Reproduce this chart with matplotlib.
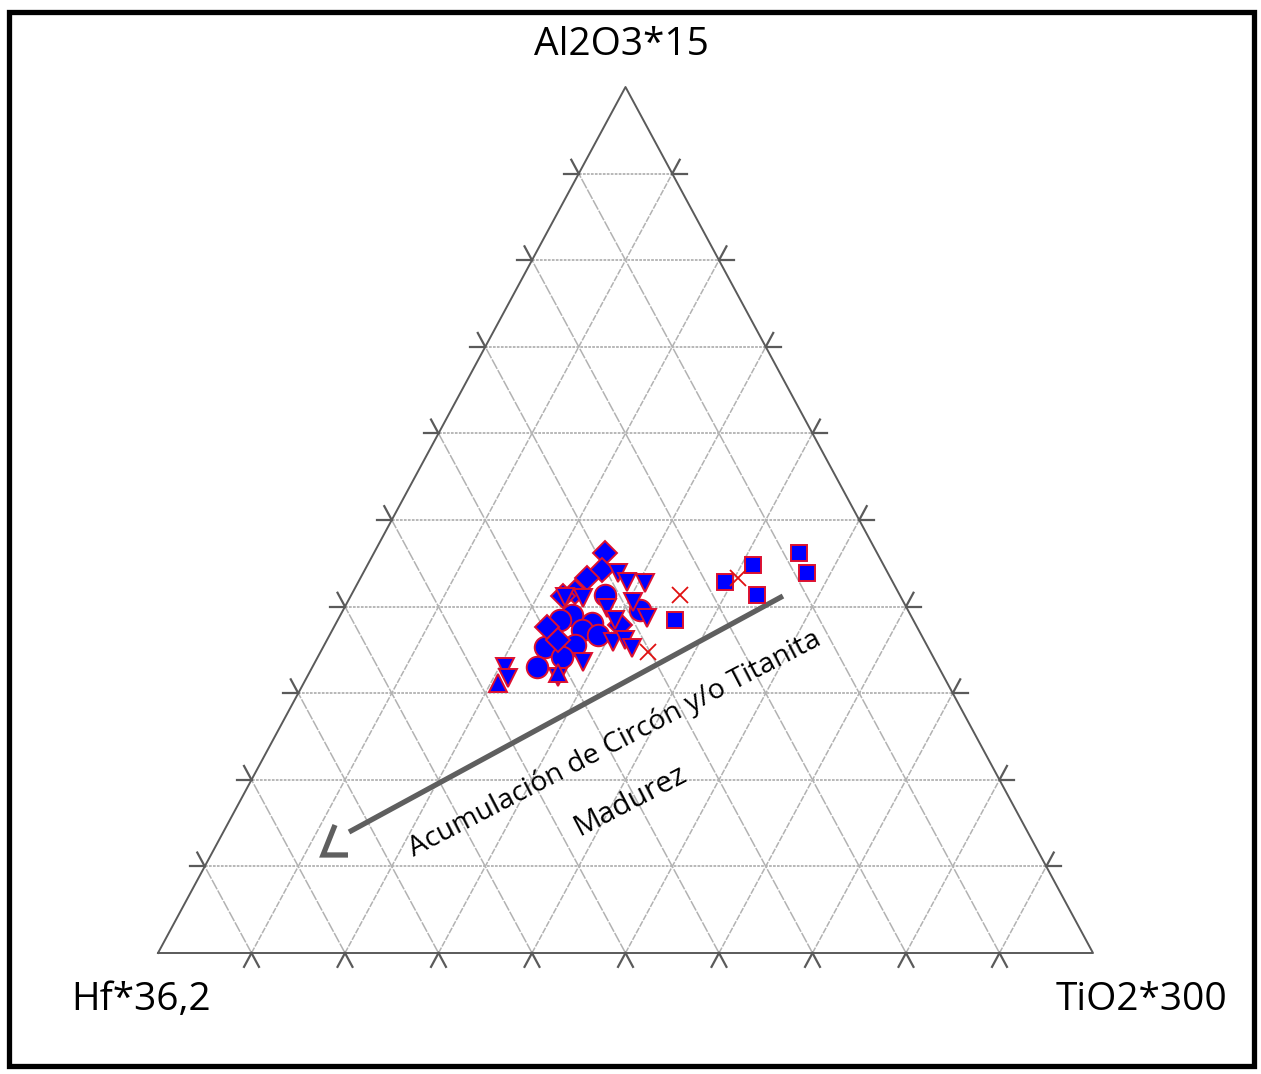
import numpy as np
import matplotlib
matplotlib.use("Agg")
import matplotlib.pyplot as plt
from matplotlib.patches import Rectangle

# ---------------- data (ternary percentages: Al2O3*15, TiO2*300; Hf*36,2 = rest) ----------------
diam_al = [46.2, 44.2, 43.3, 41.7, 37.6, 36.1, 37.9, 41.2]
diam_ti = [24.7, 25.4, 24.2, 23.8, 22.8, 24.7, 30.5, 22.7]

circ_al = [41.3, 39.6, 39.0, 38.5, 38.1, 37.3, 36.7, 35.3, 35.6, 34.2, 33.0]
circ_ti = [27.2, 31.8, 24.8, 23.75, 27.35, 26.65, 28.75, 23.75, 26.8, 26.1, 24.0]

tdown_al = [43.9, 42.8, 42.7, 41.0, 39.8, 40.5, 38.7, 38.5, 35.9, 36.1, 35.2, 33.6, 33.0, 31.8, 31.9, 41.1]
tdown_ti = [27.25, 28.8, 30.75, 25.0, 28.1, 30.55, 32.95, 29.65, 30.75, 31.85, 33.1, 28.7, 20.6, 21.5, 26.85, 22.95]

tup_al = [31.2, 32.3]
tup_ti = [20.8, 26.65]

x_al = [34.8, 41.3, 43.3]
x_ti = [35.0, 35.15, 40.35]

sq_al = [38.5, 42.8, 44.8, 41.3, 46.2, 43.9]
sq_ti = [36.05, 39.2, 41.2, 43.45, 45.5, 47.45]

apex_labels = ["Al2O3*15", "Hf*36,2", "TiO2*300"]
grid_levels = [10, 20, 30, 40, 50, 60, 70, 80, 90]


def tern(al, ti):
    a = np.asarray(al, float) / 100.0
    c = np.asarray(ti, float) / 100.0
    return c + a / 2.0, a


W, H = 1261, 1074
fig = plt.figure(figsize=(W / 100, H / 100), dpi=100)
fig.patch.set_facecolor("white")

# triangle pixel frame
left, right, bottom_px, top_px = 158, 1093, 953, 87
ax = fig.add_axes([left / W, (H - bottom_px) / H, (right - left) / W, (bottom_px - top_px) / H])
ax.set_xlim(0, 1)
ax.set_ylim(0, 1)
ax.axis("off")

gc = "#b2b2b2"
tc = "#5a5a5a"
for lv in grid_levels:
    # constant Al2O3 (horizontal)
    x0, y0 = tern(lv, 0)
    x1, y1 = tern(lv, 100 - lv)
    ax.plot([x0, x1], [y0, y1], color=gc, lw=1.3, ls=(0, (1.5, 0.7)), zorder=1)
    # constant TiO2 (parallel to left edge)
    x0, y0 = tern(0, lv)
    x1, y1 = tern(100 - lv, lv)
    ax.plot([x0, x1], [y0, y1], color=gc, lw=1.1, ls=(0, (4, 0.9)), zorder=1)
    # constant Hf (parallel to right edge)
    x0, y0 = tern(0, 100 - lv)
    x1, y1 = tern(100 - lv, 0)
    ax.plot([x0, x1], [y0, y1], color=gc, lw=1.1, ls=(0, (7, 0.9)), zorder=1)

# tick stubs extending outside the triangle
d = 1.6
stubs = []
for lv in grid_levels:
    stubs += [((0, lv), (-d, lv)), ((0, lv), (-d, lv + d))]                      # bottom edge
    stubs += [((lv, 0), (lv, -d)), ((lv, 0), (lv + d, -d))]                      # left edge
    stubs += [((lv, 100 - lv), (lv, 100 - lv + d)), ((lv, 100 - lv), (lv + d, 100 - lv))]  # right edge
for (a0, t0), (a1, t1) in stubs:
    p0 = tern(a0, t0)
    p1 = tern(a1, t1)
    ax.plot([p0[0], p1[0]], [p0[1], p1[1]], color=tc, lw=1.6, clip_on=False, zorder=2)

# triangle outline
ax.plot([0, 1, 0.5, 0], [0, 0, 1, 0], color=tc, lw=1.4, zorder=3, clip_on=False)

# arrow line and open arrowhead
ax.plot([0.2043, 0.6684], [0.1397, 0.4122], color="#5f5f5f", lw=3.8, solid_capstyle="butt", zorder=4)
ax.plot([0.1893, 0.1765, 0.2032], [0.1478, 0.1132, 0.1132], color="#5f5f5f", lw=3.8,
        solid_capstyle="butt", solid_joinstyle="miter", zorder=4)

fnt = "Open Sans"
ang = 27.5
ax.text((618 - left) / 935, (bottom_px - 750) / 866, "Acumulación de Circón y/o Titanita",
        rotation=ang, rotation_mode="anchor", ha="center", va="baseline", fontsize=20.5, family=fnt, zorder=5)
ax.text((634 - left) / 935, (bottom_px - 808) / 866, "Madurez",
        rotation=ang, rotation_mode="anchor", ha="center", va="baseline", fontsize=21.5, family=fnt, zorder=5)

# markers
face = "#0000ff"
edge = "#dd1030"
mk = dict(mfc=face, mec=edge, mew=1.4, ls="none", zorder=6, clip_on=False)
px, py = tern(sq_al, sq_ti)
ax.plot(px, py, marker="s", ms=12, **mk)
px, py = tern(circ_al, circ_ti)
ax.plot(px, py, marker="o", ms=15.5, **mk)
px, py = tern(diam_al, diam_ti)
ax.plot(px, py, marker="D", ms=12.5, **mk)
px, py = tern(tdown_al, tdown_ti)
ax.plot(px, py, marker="v", ms=13, **mk)
px, py = tern(tup_al, tup_ti)
ax.plot(px, py, marker="^", ms=13, **mk)
px, py = tern(x_al, x_ti)
ax.plot(px, py, marker="x", ms=12, mec="#e01010", mew=1.3, ls="none", zorder=7)

# apex labels
fig.text(621 / W, 1 - 45 / H, apex_labels[0], ha="center", va="center", fontsize=28, family=fnt)
fig.text(141 / W, 1 - 1000 / H, apex_labels[1], ha="center", va="center", fontsize=28, family=fnt)
fig.text(1142 / W, 1 - 1000 / H, apex_labels[2], ha="center", va="center", fontsize=28, family=fnt)

# outer frame
fig.patches.append(Rectangle((8.5 / W, 1 - 1066 / H), (1254 - 8.5) / W, (1066 - 11.5) / H,
                             transform=fig.transFigure, fill=False, ec="black", lw=3.8))

fig.savefig("out.png", dpi=100, facecolor="white")
